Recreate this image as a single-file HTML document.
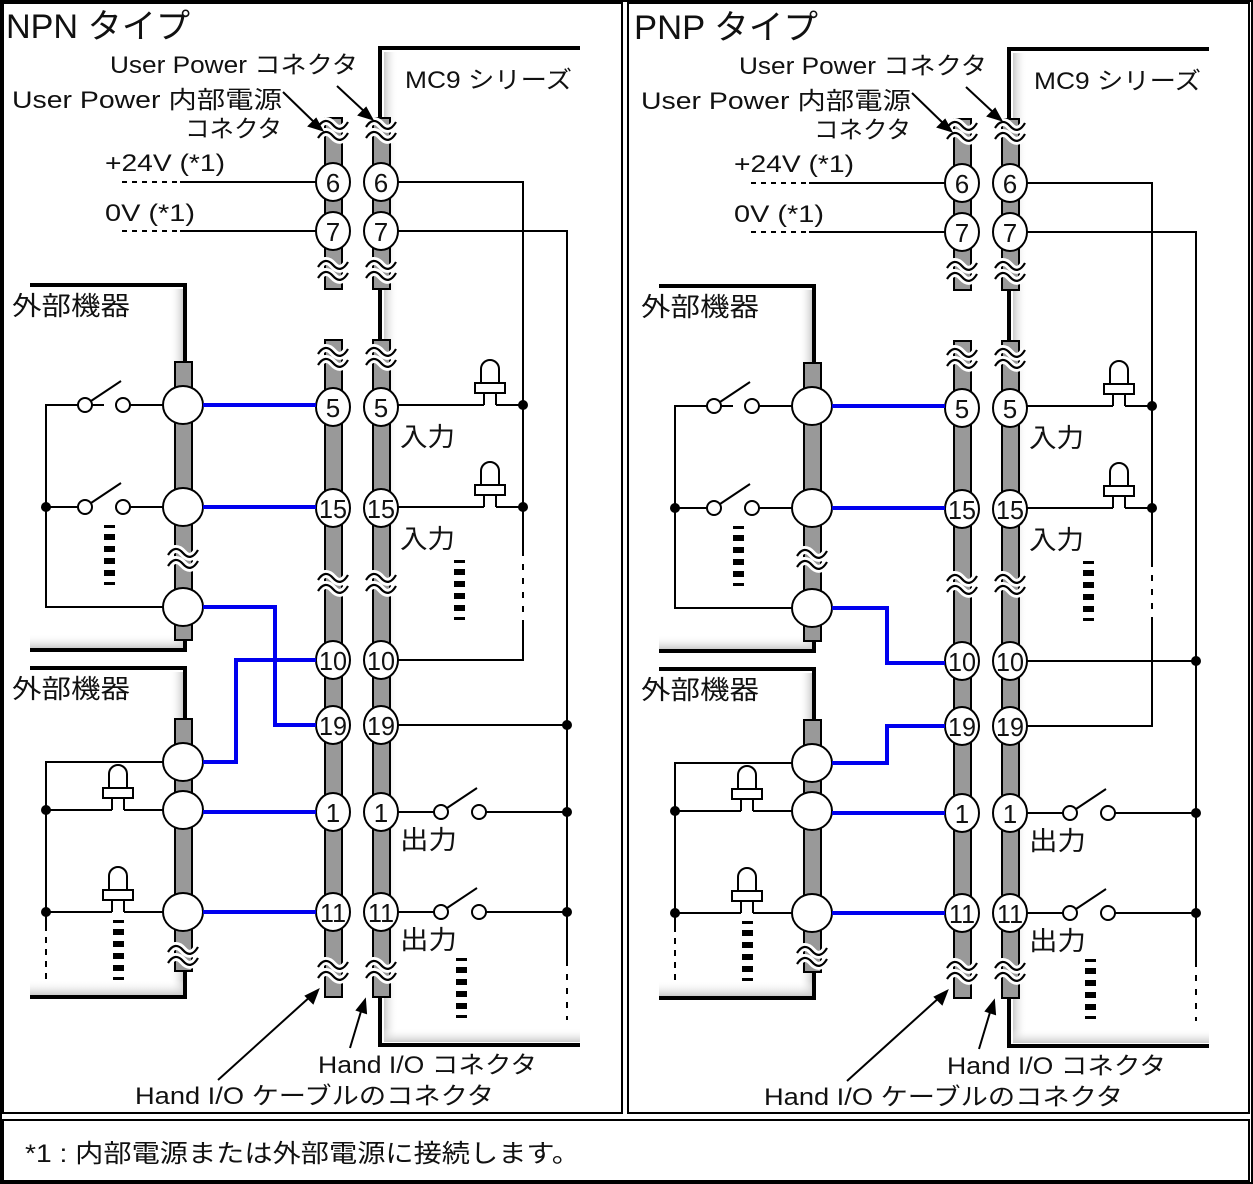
<!DOCTYPE html>
<html><head><meta charset="utf-8"><style>
html,body{margin:0;padding:0;background:#fff}
svg{display:block}
text{font-family:"Liberation Sans","Noto Sans CJK JP",sans-serif;fill:#111}
</style></head><body>
<svg width="1253" height="1184" viewBox="0 0 1253 1184" xmlns="http://www.w3.org/2000/svg">
<defs>
<linearGradient id="shL" x1="0" x2="1" y1="0" y2="0"><stop offset="0" stop-color="#ccc"/><stop offset="1" stop-color="#fff" stop-opacity="0"/></linearGradient>
<linearGradient id="shB" x1="0" x2="0" y1="1" y2="0"><stop offset="0" stop-color="#ccc"/><stop offset="1" stop-color="#fff" stop-opacity="0"/></linearGradient>
<linearGradient id="shR" x1="1" x2="0" y1="0" y2="0"><stop offset="0" stop-color="#ccc"/><stop offset="1" stop-color="#fff" stop-opacity="0"/></linearGradient>
<g id="sq"><path d="M-15,-3 q7,-11 15,-2 t15,-3 M-15,8 q7,-11 15,-2 t15,-3" fill="none" stroke="#fff" stroke-width="8"/><path d="M-15,-3 q7,-11 15,-2 t15,-3 M-15,8 q7,-11 15,-2 t15,-3" fill="none" stroke="#000" stroke-width="2.2"/></g>
<g id="led"><path d="M-9,-22 v-14 a9,9 0 0 1 18,0 v14 z M-15,-22 h30 v10 h-30 z" fill="#fff" stroke="#000" stroke-width="2"/><path d="M-6,-12 v12 M6,-12 v12" stroke="#000" stroke-width="2"/></g>
<g id="dash"><rect x="-5" y="0" width="11" height="3"/><rect x="-5" y="9" width="11" height="6"/><rect x="-5" y="21" width="11" height="6"/><rect x="-5" y="33" width="11" height="6"/><rect x="-5" y="45" width="11" height="6"/><rect x="-5" y="57" width="11" height="3"/></g>
<g id="dot"><circle r="5" fill="#000"/></g>
<g id="sw"><circle cx="-19" cy="0" r="7" fill="#fff" stroke="#000" stroke-width="2"/><circle cx="19" cy="0" r="7" fill="#fff" stroke="#000" stroke-width="2"/><path d="M-13,-4 L17,-24" stroke="#000" stroke-width="2"/></g>

<g id="common">
<rect x="384" y="52" width="14" height="990" fill="url(#shL)"/>
<rect x="384" y="1028" width="196" height="14" fill="url(#shB)"/>
<path d="M580,48 H380 V1045 H580" fill="none" stroke="#000" stroke-width="4"/>
<rect x="170" y="289" width="13" height="360" fill="url(#shR)"/>
<rect x="30" y="634" width="155" height="14" fill="url(#shB)"/>
<path d="M30,285 H185 V650 H30" fill="none" stroke="#000" stroke-width="4"/>
<rect x="170" y="672" width="13" height="324" fill="url(#shR)"/>
<rect x="30" y="980" width="155" height="15" fill="url(#shB)"/>
<path d="M30,668 H185 V997 H30" fill="none" stroke="#000" stroke-width="4"/>
<g fill="#999" stroke="#000" stroke-width="2">
<rect x="325" y="118" width="17" height="171"/><rect x="373" y="118" width="17" height="171"/>
<rect x="325" y="340" width="17" height="657"/><rect x="373" y="340" width="17" height="657"/>
<rect x="175" y="362" width="17" height="278"/><rect x="175" y="719" width="17" height="252"/>
</g>
<g fill="none" stroke="#000" stroke-width="2">
<path d="M180,182 H316 M180,231 H316"/>
<path d="M122,182 H180 M122,231 H180" stroke-dasharray="5,5"/>
<path d="M164,405 H130 M104,405 H46 V607 H164 M46,507 H79 M130,507 H164"/>
<path d="M164,762 H46 V925 M46,810 H112 M124,810 H164 M46,912 H112 M124,912 H164"/>
<path d="M46,925 V980" stroke-dasharray="6,6"/>
<path d="M398,405 H484 M496,405 H523 M398,507 H484 M496,507 H523"/>
<path d="M398,812 H434 M486,812 H567 M398,912 H434 M486,912 H567"/>
</g>
<g fill="#000"><use href="#dash" x="109" y="525"/><use href="#dash" x="459" y="560"/><use href="#dash" x="118" y="920"/><use href="#dash" x="461" y="958"/></g>
<use href="#sw" x="104" y="405"/><use href="#sw" x="104" y="507"/>
<use href="#sw" x="460" y="812"/><use href="#sw" x="460" y="912"/>
<use href="#led" x="490" y="405"/><use href="#led" x="490" y="507"/>
<use href="#led" x="118" y="810"/><use href="#led" x="118" y="912"/>
<use href="#dot" x="46" y="507"/><use href="#dot" x="46" y="810"/><use href="#dot" x="46" y="912"/>
<use href="#sq" x="333" y="130"/><use href="#sq" x="381" y="130"/>
<use href="#sq" x="333" y="270"/><use href="#sq" x="381" y="270"/>
<use href="#sq" x="333" y="357"/><use href="#sq" x="381" y="357"/>
<use href="#sq" x="333" y="583"/><use href="#sq" x="381" y="583"/>
<use href="#sq" x="333" y="970"/><use href="#sq" x="381" y="970"/>
<use href="#sq" x="183" y="558"/><use href="#sq" x="183" y="955"/>
<g fill="#fff" stroke="#000" stroke-width="2">
<ellipse cx="183" cy="405" rx="20" ry="19"/><ellipse cx="183" cy="507" rx="20" ry="19"/><ellipse cx="183" cy="607" rx="20" ry="19"/>
<ellipse cx="183" cy="762" rx="20" ry="19"/><ellipse cx="183" cy="810" rx="20" ry="19"/><ellipse cx="183" cy="912" rx="20" ry="19"/>
</g>
<g fill="#fff" stroke="#000" stroke-width="2">
<ellipse cx="333" cy="182" rx="17" ry="19"/><ellipse cx="381" cy="182" rx="17" ry="19"/>
<ellipse cx="333" cy="231" rx="17" ry="19"/><ellipse cx="381" cy="231" rx="17" ry="19"/>
<ellipse cx="333" cy="407" rx="17" ry="19"/><ellipse cx="381" cy="407" rx="17" ry="19"/>
<ellipse cx="333" cy="508" rx="17" ry="19"/><ellipse cx="381" cy="508" rx="17" ry="19"/>
<ellipse cx="333" cy="660" rx="17" ry="19"/><ellipse cx="381" cy="660" rx="17" ry="19"/>
<ellipse cx="333" cy="725" rx="17" ry="19"/><ellipse cx="381" cy="725" rx="17" ry="19"/>
<ellipse cx="333" cy="812" rx="17" ry="19"/><ellipse cx="381" cy="812" rx="17" ry="19"/>
<ellipse cx="333" cy="912" rx="17" ry="19"/><ellipse cx="381" cy="912" rx="17" ry="19"/>
</g>
<g font-size="26" text-anchor="middle">
<text x="333" y="192">6</text><text x="381" y="192">6</text>
<text x="333" y="241">7</text><text x="381" y="241">7</text>
<text x="333" y="417">5</text><text x="381" y="417">5</text>
<text x="333" y="518" textLength="28" lengthAdjust="spacingAndGlyphs">15</text><text x="381" y="518" textLength="28" lengthAdjust="spacingAndGlyphs">15</text>
<text x="333" y="670" textLength="28" lengthAdjust="spacingAndGlyphs">10</text><text x="381" y="670" textLength="28" lengthAdjust="spacingAndGlyphs">10</text>
<text x="333" y="735" textLength="28" lengthAdjust="spacingAndGlyphs">19</text><text x="381" y="735" textLength="28" lengthAdjust="spacingAndGlyphs">19</text>
<text x="333" y="822">1</text><text x="381" y="822">1</text>
<text x="333" y="922" textLength="26" lengthAdjust="spacingAndGlyphs">11</text><text x="381" y="922" textLength="26" lengthAdjust="spacingAndGlyphs">11</text>
</g>
<path d="M203,405 H316 M203,507 H316 M203,812 H316 M203,912 H316" stroke="#0000ee" stroke-width="4" fill="none"/>
<g stroke="#000" stroke-width="2" fill="#000">
<path d="M283,92 L316,124" fill="none"/><path d="M322,130 l-13,-4 l7,-7 z"/>
<path d="M337,86 L366,113" fill="none"/><path d="M372,119 l-13,-4 l7,-7 z"/>
<path d="M218,1080 L312,995" fill="none"/><path d="M318,990 l-5,13 l-7,-7 z"/>
<path d="M350,1048 L362,1008" fill="none"/><path d="M365,1000 l1,13 l-9,-3 z"/>
</g>
<g font-size="24" lengthAdjust="spacingAndGlyphs">
<text x="110" y="73" textLength="248" lengthAdjust="spacingAndGlyphs">User Power コネクタ</text>
<text x="12" y="108" textLength="270" lengthAdjust="spacingAndGlyphs">User Power 内部電源</text>
<text x="185" y="137" textLength="97" lengthAdjust="spacingAndGlyphs">コネクタ</text>
<text x="405" y="88" textLength="167" lengthAdjust="spacingAndGlyphs">MC9 シリーズ</text>
<text x="105" y="171" textLength="120" lengthAdjust="spacingAndGlyphs">+24V (*1)</text>
<text x="105" y="221" textLength="90" lengthAdjust="spacingAndGlyphs">0V (*1)</text>
<text x="12" y="315" font-size="26" textLength="118" lengthAdjust="spacingAndGlyphs">外部機器</text>
<text x="12" y="698" font-size="26" textLength="118" lengthAdjust="spacingAndGlyphs">外部機器</text>
<text x="400" y="446" font-size="26" textLength="55" lengthAdjust="spacingAndGlyphs">入力</text>
<text x="400" y="548" font-size="26" textLength="55" lengthAdjust="spacingAndGlyphs">入力</text>
<text x="400" y="849" font-size="26" textLength="57" lengthAdjust="spacingAndGlyphs">出力</text>
<text x="400" y="949" font-size="26" textLength="57" lengthAdjust="spacingAndGlyphs">出力</text>
<text x="318" y="1073" textLength="219" lengthAdjust="spacingAndGlyphs">Hand I/O コネクタ</text>
<text x="135" y="1104" textLength="359" lengthAdjust="spacingAndGlyphs">Hand I/O ケーブルのコネクタ</text>
</g>
</g>
</defs>

<rect x="1" y="1" width="1251" height="1182" fill="#fff" stroke="#000" stroke-width="2"/>
<rect x="3" y="3" width="619" height="1110" fill="none" stroke="#000" stroke-width="2"/>
<rect x="628" y="3" width="621" height="1110" fill="none" stroke="#000" stroke-width="2"/>
<rect x="3" y="1120" width="1246" height="61" fill="none" stroke="#000" stroke-width="2"/>
<text x="25" y="1162" font-size="25" textLength="555" lengthAdjust="spacingAndGlyphs">*1 : 内部電源または外部電源に接続します。</text>

<text x="6" y="38" font-size="34" textLength="184" lengthAdjust="spacingAndGlyphs">NPN タイプ</text>
<use href="#common"/>
<g fill="none" stroke="#000" stroke-width="2">
<path d="M398,182 H523 V550 M523,620 V660 H398 M398,231 H567 V960 M398,725 H567"/>
<path d="M523,550 V620 M567,960 V1020" stroke-dasharray="6,8"/>
</g>
<use href="#dot" x="523" y="405"/><use href="#dot" x="523" y="507"/>
<use href="#dot" x="567" y="725"/><use href="#dot" x="567" y="812"/><use href="#dot" x="567" y="912"/>
<path d="M203,607 H275 V725 H316 M203,762 H236 V660 H316" stroke="#0000ee" stroke-width="4" fill="none"/>

<g transform="translate(629,1)">
<text x="5" y="38" font-size="34" textLength="184" lengthAdjust="spacingAndGlyphs">PNP タイプ</text>
<use href="#common"/>
<g fill="none" stroke="#000" stroke-width="2">
<path d="M398,182 H523 V560 M523,620 V725 H398 M398,231 H567 V960 M398,660 H567"/>
<path d="M523,560 V620 M567,960 V1020" stroke-dasharray="6,8"/>
</g>
<use href="#dot" x="523" y="405"/><use href="#dot" x="523" y="507"/>
<use href="#dot" x="567" y="660"/><use href="#dot" x="567" y="812"/><use href="#dot" x="567" y="912"/>
<path d="M203,607 H258 V662 H316 M203,762 H258 V725 H316" stroke="#0000ee" stroke-width="4" fill="none"/>
</g>
</svg>
</body></html>
